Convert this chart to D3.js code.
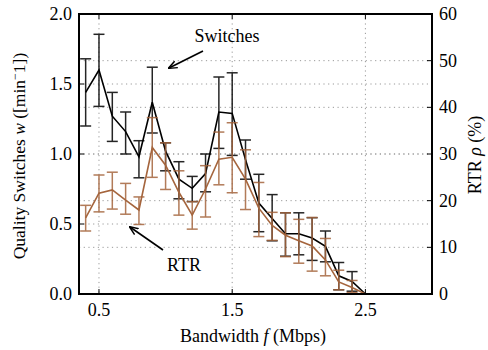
<!DOCTYPE html>
<html><head><meta charset="utf-8">
<script src="https://cdn.jsdelivr.net/npm/d3@7"></script>
<style>body{margin:0;background:#fff}svg{display:block}
text{font-family:'Liberation Serif','Times New Roman','Nimbus Roman','DejaVu Serif',serif;}</style>
</head><body><svg id="c" width="488" height="350"></svg>
<script>
const bandwidth = [0.4,0.5,0.6,0.7,0.8,0.9,1.0,1.1,1.2,1.3,1.4,1.5,1.6,1.7,1.8,1.9,2.0,2.1,2.2,2.3,2.4,2.5];
const switchesMean = [1.44,1.60,1.27,1.16,0.98,1.37,1.02,0.82,0.755,0.86,1.30,1.29,0.96,0.65,0.54,0.43,0.43,0.40,0.34,0.13,0.09,0.0];
const switchesLow  = [1.20,1.34,1.09,1.00,0.83,1.15,0.88,0.68,0.66,0.73,1.04,0.99,0.82,0.445,0.38,0.27,0.28,0.24,0.23,0.03,0.02,null];
const switchesHigh = [1.68,1.855,1.44,1.30,1.095,1.62,1.08,0.945,0.84,1.00,1.55,1.58,1.10,0.855,0.71,0.58,0.58,0.545,0.45,0.225,0.16,null];
const rtrMean = [16.3,21.6,22.3,20.1,18.0,31.4,27.6,21.8,16.9,22.5,28.9,29.3,24.6,18.4,14.7,12.6,11.4,10.3,7.3,2.6,1.4,0];
const rtrLow  = [13.5,17.6,18.2,17.1,14.9,25.0,22.4,16.9,13.9,16.5,23.4,21.7,18.1,12.3,11.5,8.0,6.6,4.9,3.9,0.9,0.3,null];
const rtrHigh = [19.0,25.5,26.1,23.7,20.8,37.8,32.4,26.4,19.8,27.5,34.7,36.7,30.9,23.9,17.5,17.4,16.0,16.4,11.9,5.1,2.9,null];
const xTicks = [0.5,1.5,2.5];
const leftTicks = [0,0.5,1.0,1.5,2.0];
const rightTicks = [0,10,20,30,40,50,60];

const svg = d3.select('#c');
const L=79, R=432, T=14, B=294;
const x = d3.scaleLinear().domain([0.35,3.0]).range([L,R]);
const yL = d3.scaleLinear().domain([0,2]).range([B,T]);
const yR = d3.scaleLinear().domain([0,60]).range([B,T]);
const BLACK='#000', BROWN='#a5653d';

const defs = svg.append('defs');
defs.append('marker').attr('id','ah').attr('viewBox','0 0 10 10').attr('refX',9).attr('refY',5)
  .attr('markerWidth',9).attr('markerHeight',9).attr('markerUnits','userSpaceOnUse').attr('orient','auto')
  .append('path').attr('d','M0,1 L10,5 L0,9').attr('fill','none').attr('stroke','#000').attr('stroke-width',1.6);

// grid
const g = svg.append('g');
const gridStyle = s => s.attr('stroke','#999').attr('stroke-width',1).attr('stroke-dasharray','1.2,3.5');
xTicks.forEach(t=>gridStyle(g.append('line').attr('x1',x(t)).attr('x2',x(t)).attr('y1',T).attr('y2',B)));
leftTicks.forEach(t=>gridStyle(g.append('line').attr('x1',L).attr('x2',R).attr('y1',yL(t)).attr('y2',yL(t))));
rightTicks.forEach(t=>gridStyle(g.append('line').attr('x1',L).attr('x2',R).attr('y1',yR(t)).attr('y2',yR(t))));

function series(mean, low, high, ys, color, errOpacity){
  const gg = svg.append('g');
  bandwidth.forEach((b,i)=>{
    if(low[i]==null) return;
    const cx=x(b), y1=ys(low[i]), y2=ys(high[i]);
    const e = gg.append('g').attr('stroke',color).attr('stroke-width',1.5).attr('opacity',errOpacity);
    e.append('line').attr('x1',cx).attr('x2',cx).attr('y1',y1).attr('y2',y2);
    e.append('line').attr('x1',cx-5.5).attr('x2',cx+5.5).attr('y1',y1).attr('y2',y1);
    e.append('line').attr('x1',cx-5.5).attr('x2',cx+5.5).attr('y1',y2).attr('y2',y2);
  });
  const line = d3.line().x((d,i)=>x(bandwidth[i])).y(d=>ys(d));
  gg.append('path').attr('d',line(mean)).attr('fill','none').attr('stroke',color).attr('stroke-width',1.6).attr('stroke-linejoin','miter');
}
series(switchesMean, switchesLow, switchesHigh, yL, BLACK, 0.85);
series(rtrMean, rtrLow, rtrHigh, yR, BROWN, 0.85);

// frame
svg.append('rect').attr('x',L).attr('y',T).attr('width',R-L).attr('height',B-T).attr('fill','none').attr('stroke','#000').attr('stroke-width',2);

// ticks
const tk = svg.append('g').attr('stroke','#000').attr('stroke-width',1);
xTicks.forEach(t=>{
  tk.append('line').attr('x1',x(t)).attr('x2',x(t)).attr('y1',B).attr('y2',B-5);
  tk.append('line').attr('x1',x(t)).attr('x2',x(t)).attr('y1',T).attr('y2',T+5);
});
leftTicks.forEach(t=>tk.append('line').attr('x1',L).attr('x2',L+5).attr('y1',yL(t)).attr('y2',yL(t)));
rightTicks.forEach(t=>tk.append('line').attr('x1',R).attr('x2',R-5).attr('y1',yR(t)).attr('y2',yR(t)));

const txt = svg.append('g').attr('font-size',18).attr('fill','#000');
xTicks.forEach(t=>txt.append('text').attr('x',x(t)).attr('y',316).attr('text-anchor','middle').text(d3.format('.1f')(t)));
leftTicks.forEach(t=>txt.append('text').attr('x',72).attr('y',yL(t)+6).attr('text-anchor','end').text(d3.format('.1f')(t)));
rightTicks.forEach(t=>txt.append('text').attr('x',439).attr('y',yR(t)+6).attr('text-anchor','start').text(t));

const xl = txt.append('text').attr('x',253).attr('y',342).attr('text-anchor','middle');
xl.append('tspan').text('Bandwidth ');
xl.append('tspan').attr('font-style','italic').text('f');
xl.append('tspan').text(' (Mbps)');

const yl = txt.append('text').attr('font-size',17.5).attr('transform','translate(25,156) rotate(-90)').attr('text-anchor','middle');
yl.append('tspan').text('Quality Switches ');
yl.append('tspan').attr('font-style','italic').text('w');
yl.append('tspan').text(' ([min');
yl.append('tspan').attr('dy',-6).attr('font-size',12).text('−');
yl.append('tspan').attr('dy',6).text('1])');

const yr = txt.append('text').attr('transform','translate(481,155) rotate(-90)').attr('text-anchor','middle');
yr.append('tspan').text('RTR ');
yr.append('tspan').attr('font-style','italic').text('ρ');
yr.append('tspan').text(' (%)');

// annotations
txt.append('text').attr('x',227).attr('y',42).attr('text-anchor','middle').text('Switches');
txt.append('text').attr('x',184).attr('y',271).attr('text-anchor','middle').text('RTR');
svg.append('line').attr('x1',203).attr('y1',51).attr('x2',169).attr('y2',68).attr('stroke','#000').attr('stroke-width',1.6).attr('marker-end','url(#ah)');
svg.append('line').attr('x1',163).attr('y1',250).attr('x2',130).attr('y2',227).attr('stroke','#000').attr('stroke-width',1.6).attr('marker-end','url(#ah)');
</script></body></html>
